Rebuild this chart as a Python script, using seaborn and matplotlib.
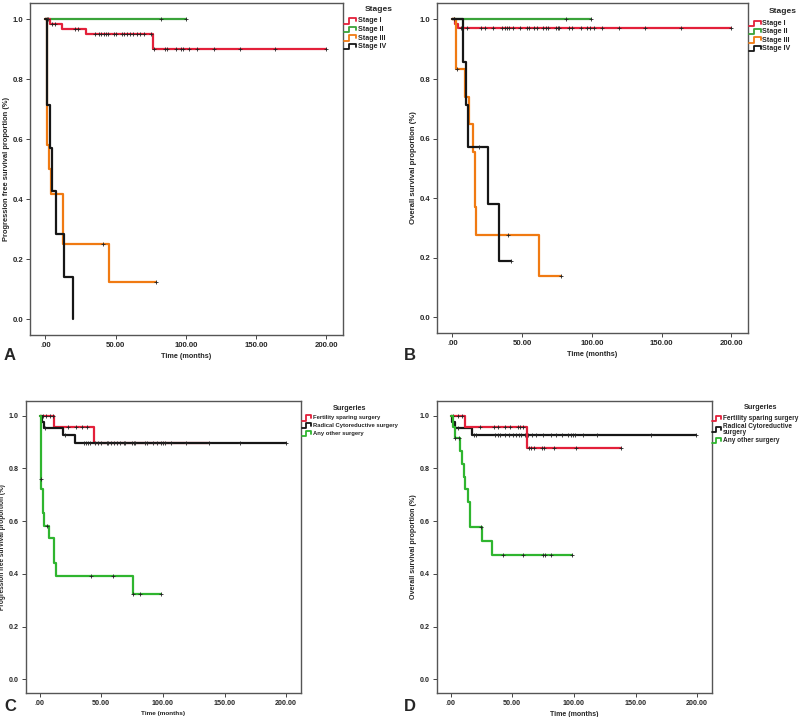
import numpy as np
import pandas as pd
import matplotlib
matplotlib.use("Agg")
import matplotlib.pyplot as plt
import seaborn as sns
from matplotlib.lines import Line2D

# ---------------- data ----------------
# Panel A: progression-free survival by stage
a_stage1_t = [0, 3, 12, 29, 76.5, 200]
a_stage1_s = [1.0, 0.986, 0.969, 0.951, 0.903, 0.903]
a_stage1_c = [1.5, 5, 7, 21.4, 23.3, 35.6, 38, 39.9, 41.5, 43.2, 44.8, 48.8, 50.5, 54.8, 56.2,
              57.9, 60.3, 62.4, 65.3, 67.6, 70.2, 75.5, 77.1, 84.9, 86.6, 93, 96.8, 98.2, 102,
              107.9, 119.8, 138.8, 163.9, 200]
a_stage2_t = [0, 100]
a_stage2_s = [1.0, 1.0]
a_stage2_c = [1, 82, 100]
a_stage3_t = [0, 1.2, 2.85, 4.0, 12.3, 45.5, 78.8]
a_stage3_s = [1.0, 0.583, 0.5, 0.417, 0.25, 0.125, 0.125]
a_stage3_c = [40.8, 78.8]
a_stage4_t = [0, 1.2, 3.6, 4.7, 7.6, 13.5, 19.4]
a_stage4_s = [1.0, 0.714, 0.571, 0.429, 0.286, 0.143, 0.0]
a_stage4_c = []

# Panel B: overall survival by stage
b_stage1_t = [0, 2.2, 3.8, 200]
b_stage1_s = [1.0, 0.986, 0.972, 0.972]
b_stage1_c = [1, 6.0, 10.8, 20.4, 23.5, 29.3, 35.5, 37.5, 38.9, 40.8, 43.2, 48.5, 53.8, 55.2,
              58.8, 60.5, 64.8, 67.2, 68.9, 74.4, 75.6, 76.3, 84.0, 85.9, 92.0, 96.5, 98.4,
              101.5, 107.6, 119.3, 138.5, 163.7, 200]
b_stage2_t = [0, 99.2]
b_stage2_s = [1.0, 1.0]
b_stage2_c = [1, 81.2, 99.2]
b_stage3_t = [0, 2.6, 9.35, 12.2, 14.6, 16.1, 17.0, 62.1, 78]
b_stage3_s = [1.0, 0.833, 0.741, 0.648, 0.556, 0.370, 0.278, 0.139, 0.139]
b_stage3_c = [3, 39.6, 78]
b_stage4_t = [0, 7.9, 9.8, 11.0, 25.4, 33.3, 42.2]
b_stage4_s = [1.0, 0.857, 0.714, 0.571, 0.381, 0.190, 0.190]
b_stage4_c = [18.9, 42.2]

# Panel C: progression-free survival by surgery
c_fert_t = [0, 12.1, 44.5, 138]
c_fert_s = [1.0, 0.955, 0.895, 0.895]
c_fert_c = [2.7, 5.4, 8.1, 10.8, 23, 29.7, 34.6, 38.4]
c_rad_t = [0, 1.9, 3.2, 18.9, 28.9, 199.5]
c_rad_s = [1.0, 0.975, 0.951, 0.927, 0.895, 0.895]
c_rad_c = [4.5, 20.8, 35.9, 37.3, 39.2, 41.1, 44.6, 47.6, 49.5, 54.6, 55.4, 57.6, 60.5, 62.7,
           65.4, 68.4, 69.5, 75.1, 76.5, 77.3, 85.1, 87.3, 91.9, 95.0, 98.5, 99.8, 101.8,
           106.6, 118.8, 137.7, 162.5, 199.5]
c_other_t = [0, 1, 1.5, 3, 4, 7.3, 11.6, 13, 75.9, 98.1]
c_other_s = [1.0, 0.76, 0.72, 0.63, 0.583, 0.535, 0.44, 0.39, 0.325, 0.325]
c_other_c = [1, 6, 41.9, 59.2, 75.9, 81.1, 98.1]

# Panel D: overall survival by surgery
d_fert_t = [0, 12.1, 61.8, 138]
d_fert_s = [1.0, 0.955, 0.875, 0.875]
d_fert_c = [1.9, 5.9, 9.2, 23.5, 35, 38.3, 44.5, 48.5, 55, 56.3, 59, 63.5, 65.2, 67.9, 74.1,
            75.5, 83.6, 101.8, 138]
d_rad_t = [0, 1, 3.2, 17.3, 199]
d_rad_s = [1.0, 0.976, 0.952, 0.927, 0.927]
d_rad_c = [5.9, 19.4, 20.8, 36.4, 38.8, 40.4, 44.5, 47.7, 50.4, 53.1, 55.3, 57.1, 60.6, 62.5,
           65.8, 69.3, 74.7, 81.4, 85.9, 90, 94.9, 97.7, 99.6, 101.2, 107.2, 119, 162.8, 199]
d_other_t = [0, 2, 3.2, 7.9, 9.4, 10.5, 11.3, 14, 15.9, 25.2, 33.2, 98.1]
d_other_s = [1.0, 0.957, 0.913, 0.864, 0.816, 0.768, 0.72, 0.672, 0.576, 0.524, 0.472, 0.472]
d_other_c = [4, 6.5, 24.5, 42.3, 59, 75.2, 76.3, 81.1, 98.1]

x_ticks = [0, 50, 100, 150, 200]
x_tick_labels = [".00", "50.00", "100.00", "150.00", "200.00"]
y_ticks = [0.0, 0.2, 0.4, 0.6, 0.8, 1.0]
y_tick_labels = ["0.0", "0.2", "0.4", "0.6", "0.8", "1.0"]

stage_labels = ["Stage I", "Stage II", "Stage III", "Stage IV"]
surgery_labels = ["Fertility sparing surgery", "Radical Cytoreductive surgery", "Any other surgery"]
surgery_labels_d = ["Fertility sparing surgery", "Radical Cytoreductive\nsurgery", "Any other surgery"]

# ---------------- style ----------------
sns.set_style("ticks")
plt.rcParams["font.family"] = ["Liberation Sans", "DejaVu Sans"]
plt.rcParams["font.weight"] = "bold"
plt.rcParams["axes.labelweight"] = "bold"

RED = "#e3203a"
GREEN = "#3aa33a"
ORANGE = "#f07a12"
BLACK = "#161616"
GREEN2 = "#2fb52f"

fig = plt.figure(figsize=(8.0, 7.17), dpi=100)
W, H = 800.0, 717.0


def draw_curve(ax, t, s, c, color, z):
    df = pd.DataFrame({"time": t, "surv": s})
    sns.lineplot(data=df, x="time", y="surv", drawstyle="steps-post", color=color,
                 lw=1.6, estimator=None, sort=False, ax=ax, zorder=z, legend=False)
    t_arr = np.asarray(t, float)
    s_arr = np.asarray(s, float)
    if len(c):
        c_arr = np.asarray(c, float)
        idx = np.clip(np.searchsorted(t_arr, c_arr, side="right") - 1, 0, len(s_arr) - 1)
        cdf = pd.DataFrame({"time": c_arr, "surv": s_arr[idx]})
        sns.scatterplot(data=cdf, x="time", y="surv", marker="+", color="#222222", s=9,
                        linewidth=0.6, ax=ax, zorder=z + 0.5, legend=False)


def style_axes(ax, ylabel, tick_fs, ylab_fs, xlab_fs):
    ax.set_xlim(-11, 212)
    ax.set_ylim(-0.052, 1.055)
    ax.set_xticks(x_ticks)
    ax.set_xticklabels(x_tick_labels)
    ax.set_yticks(y_ticks)
    ax.set_yticklabels(y_tick_labels)
    ax.tick_params(labelsize=tick_fs, length=3, width=0.7, color="#444444", pad=2)
    for sp in ax.spines.values():
        sp.set_visible(True)
        sp.set_color("#555555")
        sp.set_linewidth(1.0)
    ax.set_xlabel("Time (months)", fontsize=xlab_fs, fontweight="bold", labelpad=3)
    ax.set_ylabel(ylabel, fontsize=ylab_fs, fontweight="bold", labelpad=2)
    ax.set_facecolor("white")


def add_ax(l, r, t, b):
    return fig.add_axes([l / W, 1 - b / H, (r - l) / W, (b - t) / H])


def add_legend(labels, colors, title, title_xy, x_handle, ys, fs, tfs, hw=11):
    fig.text(title_xy[0] / W, 1 - title_xy[1] / H, title, ha="center", va="center",
             fontsize=tfs, fontweight="bold")
    for lab, col, y in zip(labels, colors, ys):
        xs = x_handle + np.array([0, 0.4, 0.4, 0.9, 0.9]) * hw
        yy = y + np.array([2.6, 2.6, -2.6, -2.6, 0.3])
        fig.add_artist(Line2D(xs / W, 1 - yy / H, transform=fig.transFigure,
                              color=col, lw=1.3))
        fig.text((x_handle + hw + 0.5) / W, 1 - y / H, lab, ha="left", va="center",
                 fontsize=fs, fontweight="bold", linespacing=0.95)


axA = add_ax(30, 343, 3, 335)
axB = add_ax(437, 748, 3, 333)
axC = add_ax(26, 301, 401, 693)
axD = add_ax(437, 712, 401, 693)

# Panel A
draw_curve(axA, a_stage2_t, a_stage2_s, a_stage2_c, GREEN, 2)
draw_curve(axA, a_stage1_t, a_stage1_s, a_stage1_c, RED, 3)
draw_curve(axA, a_stage3_t, a_stage3_s, a_stage3_c, ORANGE, 4)
draw_curve(axA, a_stage4_t, a_stage4_s, a_stage4_c, BLACK, 5)
style_axes(axA, "Progression free survival proportion (%)", 5.6, 5.4, 5.2)

# Panel B
draw_curve(axB, b_stage2_t, b_stage2_s, b_stage2_c, GREEN, 2)
draw_curve(axB, b_stage1_t, b_stage1_s, b_stage1_c, RED, 3)
draw_curve(axB, b_stage3_t, b_stage3_s, b_stage3_c, ORANGE, 4)
draw_curve(axB, b_stage4_t, b_stage4_s, b_stage4_c, BLACK, 5)
style_axes(axB, "Overall survival proportion (%)", 5.6, 5.6, 5.2)

# Panel C
draw_curve(axC, c_fert_t, c_fert_s, c_fert_c, RED, 2)
draw_curve(axC, c_rad_t, c_rad_s, c_rad_c, BLACK, 3)
draw_curve(axC, c_other_t, c_other_s, c_other_c, GREEN2, 4)
style_axes(axC, "Progression free survival proportion (%)", 5.1, 4.7, 4.6)

# Panel D
draw_curve(axD, d_rad_t, d_rad_s, d_rad_c, BLACK, 2)
draw_curve(axD, d_fert_t, d_fert_s, d_fert_c, RED, 3)
draw_curve(axD, d_other_t, d_other_s, d_other_c, GREEN2, 4)
style_axes(axD, "Overall survival proportion (%)", 5.1, 5.1, 5.0)

# Legends
add_legend(stage_labels, [RED, GREEN, ORANGE, BLACK], "Stages", (379, 9.5), 344,
           [21, 29.5, 38, 46.5], 5.1, 6.0, hw=13)
add_legend(stage_labels, [RED, GREEN, ORANGE, BLACK], "Stages", (783, 11.7), 749,
           [23.3, 31.7, 40, 48.3], 5.1, 6.0, hw=13)
add_legend(surgery_labels, [RED, BLACK, GREEN2], "Surgeries", (350, 408), 302,
           [418, 425.7, 433.2], 4.2, 5.2, hw=10.5)
add_legend(surgery_labels_d, [RED, BLACK, GREEN2], "Surgeries", (761, 407.5), 712,
           [418.3, 429.5, 440.7], 4.7, 5.2, hw=10.5)

for letter, (px, py) in zip("ABCD", [(4, 363), (404, 363), (4, 714), (404, 714)]):
    fig.text(px / W, 1 - py / H, letter, fontsize=12, fontweight="bold", ha="left", va="bottom")

fig.savefig("out.png", dpi=100, facecolor="white")
